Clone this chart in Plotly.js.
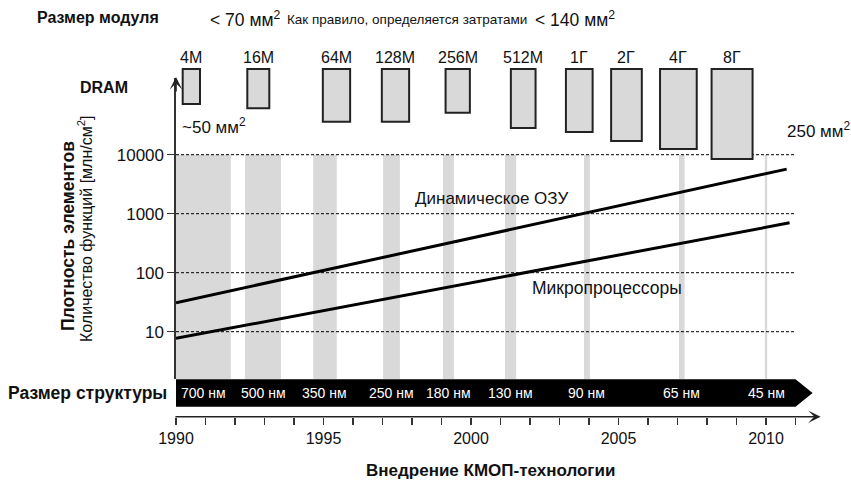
<!DOCTYPE html>
<html>
<head>
<meta charset="utf-8">
<script src="https://cdn.plot.ly/plotly-3.0.1.min.js"></script>
<style>html,body{margin:0;padding:0;background:#fff}#chart{width:851px;height:484px}</style>
</head>
<body>
<div id="chart"></div>
<script>
// ---------- data ----------
const dramYears = [1990, 2010.7];
const dramDensity = [31, 5700];
const mpuYears = [1990, 2010.8];
const mpuDensity = [7.7, 700];

const yTickVals = [10, 100, 1000, 10000];
const yTickText = ['10', '100', '1000', '10000'];

const xTickYears = [1990,1991,1992,1993,1994,1995,1996,1997,1998,1999,2000,
                    2001,2002,2003,2004,2005,2006,2007,2008,2009,2010,2011];

const nodeLabels = ['700 нм','500 нм','350 нм','250 нм','180 нм','130 нм','90 нм','65 нм','45 нм'];
const nodeStart  = [1990.0, 1992.34, 1994.65, 1997.02, 1999.05, 2001.15, 2003.83, 2007.05, 2009.96];
const nodeEnd    = [1991.86, 1993.56, 1995.45, 1997.59, 1999.42, 2001.53, 2004.03, 2007.24, 2010.04];

const dramLabels = ['4M','16M','64M','128M','256M','512M','1Г','2Г','4Г','8Г'];
const dramYear   = [1990.52, 1992.79, 1995.44, 1997.44, 1999.55, 2001.77, 2003.67, 2005.27, 2007.03, 2008.85];
const dieWidthMm = [4.94, 6.29, 7.8, 7.8, 6.94, 7.06, 7.63, 8.77, 10.49, 11.71];
const dieHeightMm= [10.0, 11.2, 15.06, 15.06, 12.49, 16.86, 18.0, 20.57, 22.86, 25.71];

// ---------- layout helpers ----------
const W = 851, H = 484;
const fx = px => px / W;
const fy = py => 1 - py / H;
const PX_PER_YEAR = 29.5, AXIS_PX = 176;
const PX_PER_DEC = 59, Y10K_PX = 154.7;
const PX_PER_MM = 3.5, BOX_TOP_PX = 69;
const FONT = 'Liberation Sans, Arial, Helvetica, sans-serif';
const INK = '#111';

const xMax = 1990 + (W - AXIS_PX) / PX_PER_YEAR;
const yTopPx = 78, yBotPx = 379;
const yRange = [4 - (yBotPx - Y10K_PX) / PX_PER_DEC, 4 + (Y10K_PX - yTopPx) / PX_PER_DEC];
const y2TopPx = 40, y2BotPx = 169;
const y2Range = [(y2BotPx - BOX_TOP_PX) / PX_PER_MM, -(BOX_TOP_PX - y2TopPx) / PX_PER_MM];

const traces = [
  {x: dramYears, y: dramDensity, type: 'scatter', mode: 'lines',
   line: {color: '#000', width: 3}, hoverinfo: 'skip', xaxis: 'x', yaxis: 'y'},
  {x: mpuYears, y: mpuDensity, type: 'scatter', mode: 'lines',
   line: {color: '#000', width: 3}, hoverinfo: 'skip', xaxis: 'x', yaxis: 'y'},
  {x: dramYear, y: dieHeightMm, base: dramYear.map(() => 0),
   width: dieWidthMm.map(w => w * PX_PER_MM / PX_PER_YEAR),
   type: 'bar', marker: {color: '#d9d9d9', line: {color: '#222', width: 2}},
   hoverinfo: 'skip', xaxis: 'x', yaxis: 'y2'}
];

const shapes = [];
nodeStart.forEach((s, i) => {
  shapes.push({type: 'rect', xref: 'x', yref: 'y', x0: s, x1: nodeEnd[i],
    y0: 1, y1: yTickVals[yTickVals.length - 1], fillcolor: '#d9d9d9',
    line: {width: 0}, layer: 'below'});
});
yTickVals.forEach(v => {
  shapes.push({type: 'line', xref: 'x', yref: 'y', x0: 1990, x1: 2011, y0: v, y1: v,
    line: {color: '#000', width: 1, dash: '3px,2px'}, layer: 'below'});
});
// black structure-size band with arrow tip
const bTop = fy(379.3), bBot = fy(406.7), bMid = (bTop + bBot) / 2;
const xb0 = xTickYears[0], xb1 = xTickYears[xTickYears.length - 1], xTip = xb1 + 0.58;
shapes.push({type: 'path', xref: 'x', yref: 'paper',
  path: `M ${xb0},${bTop} L ${xb1},${bTop} L ${xTip},${bMid} L ${xb1},${bBot} L ${xb0},${bBot} Z`,
  fillcolor: '#000', line: {width: 0}});

const ann = [];
function txt(text, px, py, opts) {
  const o = Object.assign({text: text, xref: 'paper', yref: 'paper', x: fx(px), y: fy(py),
    xanchor: 'left', yanchor: 'middle', showarrow: false,
    font: {family: FONT, size: 16, color: INK}}, opts || {});
  ann.push(o);
}
const f = (size) => ({family: FONT, size: size, color: INK});
txt('<b>Размер модуля</b>', 35, 18);
txt('&lt; 70 мм<sup>2</sup>', 208, 19, {font: f(17.5)});
txt('Как правило, определяется затратами', 285, 20, {font: f(13.5)});
txt('&lt; 140 мм<sup>2</sup>', 533, 19, {font: f(17.5)});
txt('<b>DRAM</b>', 78, 87);
txt('~50 мм<sup>2</sup>', 180, 126, {font: f(17)});
txt('250 мм<sup>2</sup>', 785, 130, {font: f(17)});
txt('<b>Размер структуры</b>', 6, 393, {font: f(17.5)});
txt('<b>Внедрение КМОП-технологии</b>', 364, 470, {font: f(17)});
txt('<b>Плотность элементов</b>', 68, 236, {xanchor: 'center', textangle: -90, font: f(17.5)});
txt('Количество функций [млн/см<sup>2</sup>]', 85, 229, {xanchor: 'center', textangle: -90});

// curve labels (log axis: annotation y in log units)
ann.push({text: 'Динамическое ОЗУ', xref: 'x', yref: 'y', x: 2000.7, y: Math.log10(1780),
  showarrow: false, xanchor: 'center', yanchor: 'middle', font: f(17)});
ann.push({text: 'Микропроцессоры', xref: 'x', yref: 'y', x: 2004.6, y: Math.log10(55),
  showarrow: false, xanchor: 'center', yanchor: 'middle', font: f(17.5)});

// node labels on black band
nodeLabels.forEach((t, i) => {
  ann.push({text: t, xref: 'x', yref: 'paper', x: (nodeStart[i] + nodeEnd[i]) / 2, y: bMid,
    showarrow: false, xanchor: 'center', yanchor: 'middle',
    font: {family: FONT, size: 14, color: '#fff'}});
});
// DRAM generation labels
dramLabels.forEach((t, i) => {
  ann.push({text: t, xref: 'x', yref: 'y2', x: dramYear[i], y: -(BOX_TOP_PX - 58) / PX_PER_MM,
    showarrow: false, xanchor: 'center', yanchor: 'middle', font: f(16)});
});
// axis arrows
ann.push({xref: 'x', yref: 'paper', x: 2011.85, y: fy(416.7), axref: 'x', ayref: 'pixel',
  ax: 1989.93, ay: 0, showarrow: true, arrowhead: 3, arrowsize: 1.3, arrowwidth: 1.6,
  arrowcolor: '#222', standoff: 0, text: ''});
ann.push({xref: 'x', yref: 'paper', x: 1990, y: fy(77), ax: 0, ay: 16,
  showarrow: true, arrowhead: 3, arrowsize: 1.3, arrowwidth: 1.6,
  arrowcolor: '#222', standoff: 0, text: ''});

const layout = {
  width: W, height: H,
  margin: {l: 0, r: 0, t: 0, b: 0},
  paper_bgcolor: '#fff', plot_bgcolor: 'rgba(0,0,0,0)',
  showlegend: false,
  font: {family: FONT, size: 16, color: INK},
  xaxis: {domain: [fx(AXIS_PX), 1], range: [1990, xMax], anchor: 'free', position: fy(416.7),
    showline: false, showgrid: false, zeroline: false,
    tickmode: 'array', tickvals: xTickYears,
    ticktext: xTickYears.map(y => (y % 5 === 0 ? String(y) : '')),
    ticks: 'outside', ticklen: 7, tickwidth: 1.5, tickcolor: '#333',
    tickfont: f(16), fixedrange: true},
  yaxis: {type: 'log', domain: [fy(yBotPx), fy(yTopPx)], range: yRange, anchor: 'x',
    showline: true, linecolor: '#333', linewidth: 1.6, showgrid: false, zeroline: false,
    tickmode: 'array', tickvals: yTickVals, ticktext: yTickText,
    ticks: 'outside', ticklen: 7, tickwidth: 1.2, tickcolor: '#333',
    tickfont: f(17), fixedrange: true},
  yaxis2: {domain: [fy(y2BotPx), fy(y2TopPx)], range: y2Range, anchor: 'x', visible: false,
    showgrid: false, zeroline: false, fixedrange: true},
  bargap: 0,
  shapes: shapes,
  annotations: ann
};

Plotly.newPlot('chart', traces, layout, {staticPlot: true, displayModeBar: false});
</script>
</body>
</html>
